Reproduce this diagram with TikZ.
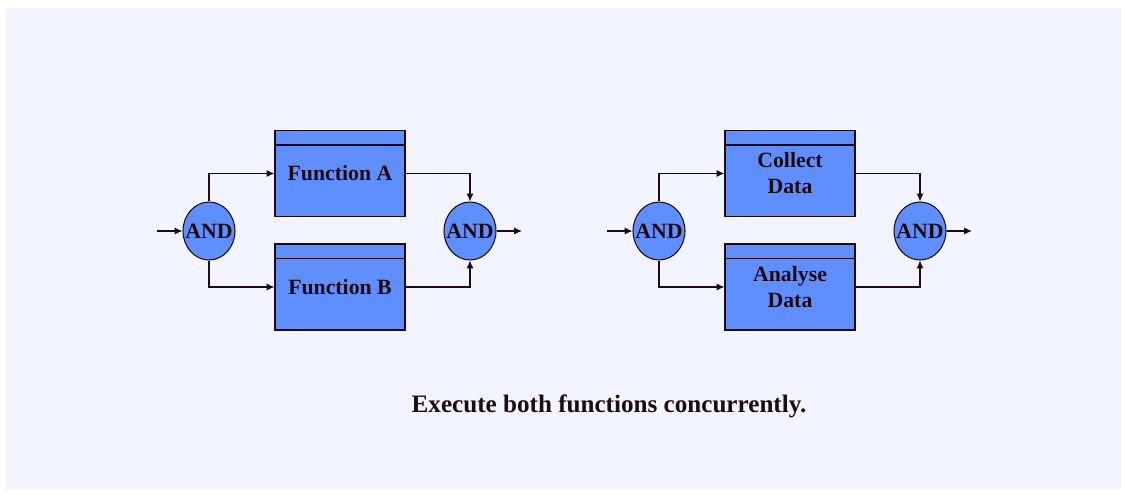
\documentclass[tikz,border=0pt]{standalone}
\usepackage{fontspec}
\setmainfont{Liberation Serif}
\usetikzlibrary{shapes.geometric, arrows.meta, positioning}
\definecolor{panelBg}{RGB}{242,245,255}
\definecolor{funcBlue}{RGB}{95,143,255}
\definecolor{inkDark}{RGB}{32,10,16}

\begin{document}
\begin{tikzpicture}[x=0.02cm, y=-0.02cm,
block/.style={rectangle, draw=inkDark, fill=funcBlue, line width=0.6pt,
minimum width=2.6cm, minimum height=1.72cm, align=center,
font=\fontsize{12.4}{14.8}\selectfont\bfseries, text=inkDark},
gate/.style={ellipse, draw=inkDark, fill=funcBlue, line width=0.6pt,
minimum width=1.04cm, minimum height=1.16cm, inner sep=0pt,
font=\fontsize{12.4}{14}\selectfont\bfseries, text=inkDark},
header/.style={draw=inkDark, line width=0.6pt},
arrow/.style={-{Latex[length=4.5pt, width=4pt]}, line width=0.6pt, color=inkDark}]
% panel
\fill[white] (0,0) rectangle (1125,493);
\fill[panelBg] (6,8) rectangle (1121,489);
% first group
\node[gate] (forkL) at (209,231) {\makebox[0pt]{AND}};
\node[block] (funA) at (340,173.5) {Function A};
\node[block] (funB) at (340,287) {Function B};
\node[gate] (joinL) at (470,231) {\makebox[0pt]{AND}};
\coordinate (inL) at (157,231);
\coordinate (outL) at (522,231);
\draw[header] ([yshift=-0.3cm]funA.north west) -- ([yshift=-0.3cm]funA.north east);
\draw[header] ([yshift=-0.3cm]funB.north west) -- ([yshift=-0.3cm]funB.north east);
\draw[arrow] (inL) -- (forkL);
\draw[arrow] (forkL.north) |- (funA.west);
\draw[arrow] (forkL.south) |- (funB.west);
\draw[arrow] (funA.east) -| (joinL.north);
\draw[arrow] (funB.east) -| (joinL.south);
\draw[arrow] (joinL) -- (outL);
% second group
\node[gate] (forkR) at (659,231) {\makebox[0pt]{AND}};
\node[block] (collect) at (790,173.5) {Collect\\Data};
\node[block] (analyse) at (790,287) {Analyse\\Data};
\node[gate] (joinR) at (920,231) {\makebox[0pt]{AND}};
\coordinate (inR) at (607,231);
\coordinate (outR) at (972,231);
\draw[header] ([yshift=-0.3cm]collect.north west) -- ([yshift=-0.3cm]collect.north east);
\draw[header] ([yshift=-0.3cm]analyse.north west) -- ([yshift=-0.3cm]analyse.north east);
\draw[arrow] (inR) -- (forkR);
\draw[arrow] (forkR.north) |- (collect.west);
\draw[arrow] (forkR.south) |- (analyse.west);
\draw[arrow] (collect.east) -| (joinR.north);
\draw[arrow] (analyse.east) -| (joinR.south);
\draw[arrow] (joinR) -- (outR);
% caption
\node[font=\fontsize{14.3}{16}\selectfont\bfseries, text=inkDark] (caption) at (609,406)
    {Execute both functions concurrently.};
\end{tikzpicture}
\end{document}
